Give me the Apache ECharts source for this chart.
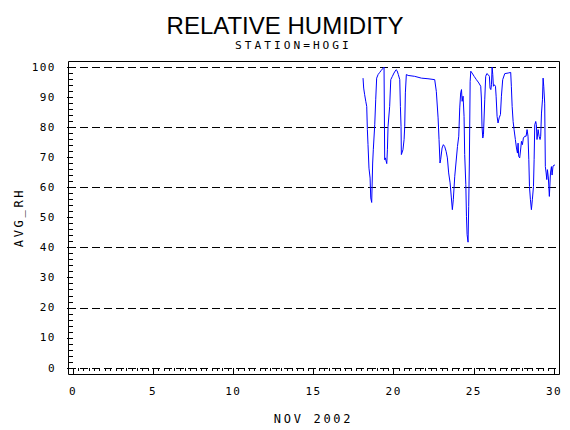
<!DOCTYPE html>
<html><head><meta charset="utf-8">
<script src="https://cdn.jsdelivr.net/npm/echarts@6/dist/echarts.min.js"></script>
<style>
html,body{margin:0;padding:0;background:#fff}
#c{width:570px;height:430px}
#c svg text[style*="11px"]{letter-spacing:1.5px}
#c svg text[style*="11.2px"]{letter-spacing:3px}
#c svg text[style*="12px"]{letter-spacing:2.7px}
</style>
</head><body><div id="c"></div>
<script>
const titleText = 'RELATIVE HUMIDITY';
const subtitleText = 'STATION=HOGI';
const xAxisName = 'NOV 2002';
const yAxisName = 'AVG_RH';
const days = [18.09,18.13,18.19,18.26,18.32,18.36,18.40,18.46,18.53,18.57,18.63,18.69,18.73,18.82,18.88,18.94,19.03,19.13,19.23,19.34,19.40,19.44,19.48,19.57,19.61,19.65,19.75,19.82,19.92,20.02,20.15,20.21,20.29,20.38,20.42,20.46,20.48,20.52,20.58,20.65,20.69,20.73,20.79,20.90,21.31,21.73,22.14,22.56,22.66,22.77,22.83,22.89,22.93,23.02,23.10,23.18,23.27,23.35,23.43,23.52,23.60,23.66,23.72,23.81,23.98,24.06,24.12,24.18,24.23,24.27,24.33,24.39,24.43,24.50,24.54,24.58,24.64,24.68,24.72,24.77,24.81,24.89,25.02,25.16,25.31,25.43,25.47,25.51,25.56,25.60,25.68,25.74,25.81,25.89,25.97,26.01,26.06,26.10,26.14,26.18,26.22,26.28,26.35,26.39,26.45,26.51,26.58,26.66,26.72,26.80,26.93,27.14,27.30,27.34,27.39,27.45,27.51,27.59,27.66,27.72,27.76,27.80,27.86,27.93,27.97,28.03,28.09,28.18,28.26,28.32,28.38,28.43,28.47,28.53,28.59,28.65,28.72,28.76,28.80,28.86,28.90,28.94,29.01,29.07,29.13,29.17,29.22,29.28,29.32,29.36,29.42,29.46,29.51,29.55,29.59,29.65,29.71,29.78,29.84,29.88,29.94,30.01,30.07];
const rh = [96.3,93.0,90.8,88.6,86.9,79.2,74.2,66.4,63.1,56.5,55.0,68.1,72.5,80.8,89.1,96.3,97.5,98.2,98.9,99.6,100,69.2,69.8,67.9,72.5,80.3,86.9,95.8,96.9,98.0,99.1,98.8,97.5,95.8,86.9,80.3,70.9,70.9,72.5,75.9,80.3,91.4,97.5,97.2,96.9,96.3,96.1,95.8,91.9,83.1,75.9,68.1,69.2,73.1,74.2,73.6,72.0,69.8,64.8,61.5,56.5,52.6,55.9,63.7,73.6,77.0,86.4,91.4,92.5,88.6,90.3,83.6,70.9,60.9,50.4,44.3,41.8,53.7,68.1,95.2,98.6,98.0,96.9,95.8,94.7,93.6,89.7,80.3,76.4,77.5,89.1,96.9,97.8,97.5,96.9,93.0,92.5,94.1,100,97.5,93.6,94.1,93.6,90.3,83.6,81.4,83.1,84.2,90.3,95.8,97.8,98.0,98.2,93.6,86.9,81.9,79.2,75.9,73.1,71.4,74.7,70.3,69.8,73.1,75.3,74.2,76.4,77.0,77.0,79.2,77.0,69.2,60.3,55.9,52.6,55.9,60.3,69.2,80.8,81.9,80.8,75.9,79.2,77.0,75.9,77.0,84.7,89.1,96.3,93.6,88.0,66.9,64.8,62.6,65.9,63.1,57.0,64.8,66.9,64.1,67.1,67.4,67.4];
const xMin = 0, xMax = 30, xStep = 5;
const yMin = 0, yMax = 100, yStep = 10, gridStep = 20;

const chart = echarts.init(document.getElementById('c'), null, {renderer: 'svg'});
const pairs = days.map((d, i) => [d, rh[i]]);
const mono = '"DejaVu Sans Mono", monospace';
const black = '#000';
chart.setOption({
  animation: false,
  backgroundColor: '#fff',
  title: [
    {text: titleText, left: 'center', top: 8,
     textStyle: {fontFamily: '"Liberation Sans", Arial, sans-serif', fontSize: 24, fontWeight: 'normal', color: black}},
    {text: subtitleText, left: 230, top: 35,
     textStyle: {fontFamily: mono, fontSize: 11.2, fontWeight: 'normal', color: black}}
  ],
  grid: [
    {left: 73, right: 16, top: 67, bottom: 62},
    {left: 68, right: 10, top: 67, bottom: 62}
  ],
  xAxis: [
    {type: 'value', gridIndex: 0, min: xMin, max: xMax, interval: xStep, offset: 6,
     axisLine: {show: false},
     axisTick: {length: 6, lineStyle: {color: black}},
     minorTick: {show: true, splitNumber: 15, length: 3, lineStyle: {color: black}},
     axisLabel: {margin: 12, color: black, fontFamily: mono, fontSize: 11},
     splitLine: {show: false},
     name: xAxisName, nameLocation: 'middle', nameGap: 39,
     nameTextStyle: {color: black, fontFamily: mono, fontSize: 12}},
    {type: 'value', gridIndex: 1, min: 0, max: 1, show: false}
  ],
  yAxis: [
    {type: 'value', gridIndex: 0, min: yMin, max: yMax, interval: yStep, offset: 5,
     axisLine: {show: false},
     axisTick: {length: 6, lineStyle: {color: black}},
     minorTick: {show: true, splitNumber: 5, length: 4, lineStyle: {color: black}},
     axisLabel: {margin: 12, color: black, fontFamily: mono, fontSize: 11},
     splitLine: {show: false},
     name: yAxisName, nameLocation: 'middle', nameGap: 42,
     nameTextStyle: {color: black, fontFamily: mono, fontSize: 12}},
    {type: 'value', gridIndex: 1, min: yMin, max: yMax, interval: gridStep,
     axisLine: {show: false}, axisTick: {show: false}, axisLabel: {show: false},
     splitLine: {show: true, lineStyle: {type: [8, 4], color: black, width: 1}}}
  ],
  graphic: [
    {type: 'rect', shape: {x: 68.5, y: 61.5, width: 491, height: 313},
     style: {fill: null, stroke: black, lineWidth: 1}, z: 100, silent: true}
  ],
  series: [
    {type: 'line', xAxisIndex: 0, yAxisIndex: 0, data: pairs, showSymbol: false, symbol: 'none',
     lineStyle: {color: '#0000ff', width: 1}, itemStyle: {color: '#0000ff'}, z: 5}
  ]
});
</script></body></html>
